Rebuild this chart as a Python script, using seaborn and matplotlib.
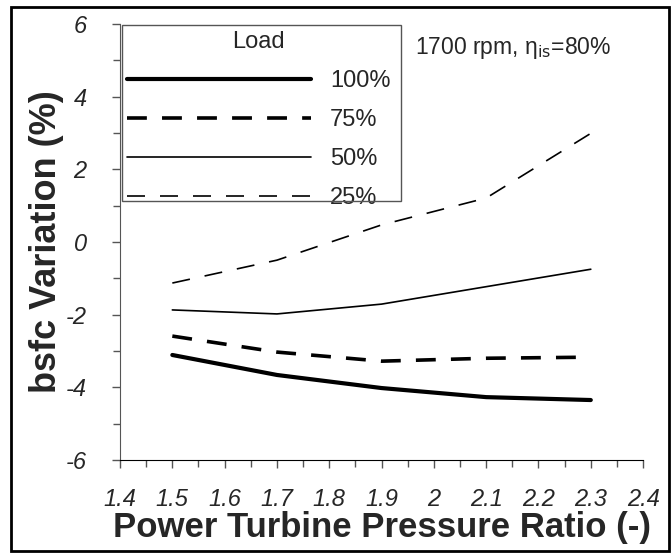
import pandas as pd
import seaborn as sns
import matplotlib.pyplot as plt
from matplotlib.ticker import MultipleLocator
from matplotlib.patches import Rectangle

# data
pressure_ratio = [1.5, 1.7, 1.9, 2.1, 2.3]
load_labels = ["100%", "75%", "50%", "25%"]
bsfc_100 = [-3.11, -3.66, -4.02, -4.27, -4.35]
bsfc_75 = [-2.59, -3.03, -3.28, -3.20, -3.17]
bsfc_50 = [-1.87, -1.98, -1.71, -1.23, -0.75]
bsfc_25 = [-1.13, -0.50, 0.47, 1.21, 2.99]

# line styles per load
line_widths = [3.0, 2.6, 1.2, 1.2]
line_dashes = [None, (5.5, 4.2), None, (10.8, 9.0)]

sns.set_style("ticks")
plt.rcParams['font.family'] = ['Liberation Sans', 'DejaVu Sans']
plt.rcParams['axes.unicode_minus'] = False

# build long dataframe
data = {"ratio": [], "bsfc": [], "load": []}
for label, values in zip(load_labels, [bsfc_100, bsfc_75, bsfc_50, bsfc_25]):
    for r, v in zip(pressure_ratio, values):
        data["ratio"].append(r)
        data["bsfc"].append(v)
        data["load"].append(label)
df = pd.DataFrame(data)

fig = plt.figure(figsize=(6.72, 5.54), dpi=100)
ax = fig.add_axes([0.1786, 0.1697, 0.7784, 0.787])

handles = []
for label, lw, dash in zip(load_labels, line_widths, line_dashes):
    sub = df[df["load"] == label]
    sns.lineplot(x="ratio", y="bsfc", data=sub, color="black", linewidth=lw, ax=ax,
                 label=label, legend=False)
    line = ax.lines[-1]
    if dash is not None:
        line.set_dashes(dash)
    handles.append(line)

ax.set_xlim(1.4, 2.4)
ax.set_ylim(-6, 6)
ax.xaxis.set_minor_locator(MultipleLocator(0.05))
ax.yaxis.set_major_locator(MultipleLocator(2))
ax.yaxis.set_minor_locator(MultipleLocator(1))
ax.set_xticks([1.4, 1.5, 1.6, 1.7, 1.8, 1.9, 2.0, 2.1, 2.2, 2.3, 2.4])
ax.set_xticklabels(["1.4", "1.5", "1.6", "1.7", "1.8", "1.9", "2", "2.1", "2.2", "2.3", "2.4"])
ax.tick_params(axis="both", which="major", labelsize=17, length=6, width=1, color="#555555")
ax.tick_params(axis="both", which="minor", length=5, width=1, color="#555555")
ax.tick_params(axis="y", which="both", pad=18)
ax.tick_params(axis="x", which="major", pad=14)
for t in ax.get_xticklabels() + ax.get_yticklabels():
    t.set_fontstyle("italic")

sns.despine(ax=ax)
ax.spines["left"].set_color("#555555")
ax.spines["bottom"].set_color("black")

ax.set_xlabel("Power Turbine Pressure Ratio (-)", fontsize=25, fontweight="bold", labelpad=0)
ax.set_ylabel("bsfc Variation (%)", fontsize=26, fontweight="bold", labelpad=1)

# legend without its own frame, the box is drawn separately so the last label can overlap it
leg = ax.legend(handles=handles, labels=load_labels, title="Load", loc="upper left",
                bbox_to_anchor=(0.0, 1.0), fontsize=17, title_fontsize=17,
                handlelength=7.8, handletextpad=0.8, labelspacing=0.72,
                borderpad=0.25, borderaxespad=0.05, frameon=False)
fig.patches.append(Rectangle((0.1815, 0.6372), 0.4152, 0.3177, transform=fig.transFigure,
                             fill=False, edgecolor="#555555", linewidth=1.0))

fig.text(0.6176, 0.913, "1700 rpm, η$_{\\mathrm{is}}$=80%", fontsize=16.5, va="center", ha="left")

# outer frame around the figure
fig.patches.append(Rectangle((0.017, 0.005), 0.978, 0.983, transform=fig.transFigure,
                             fill=False, edgecolor="black", linewidth=2.0))

plt.savefig("out.png", dpi=100)
